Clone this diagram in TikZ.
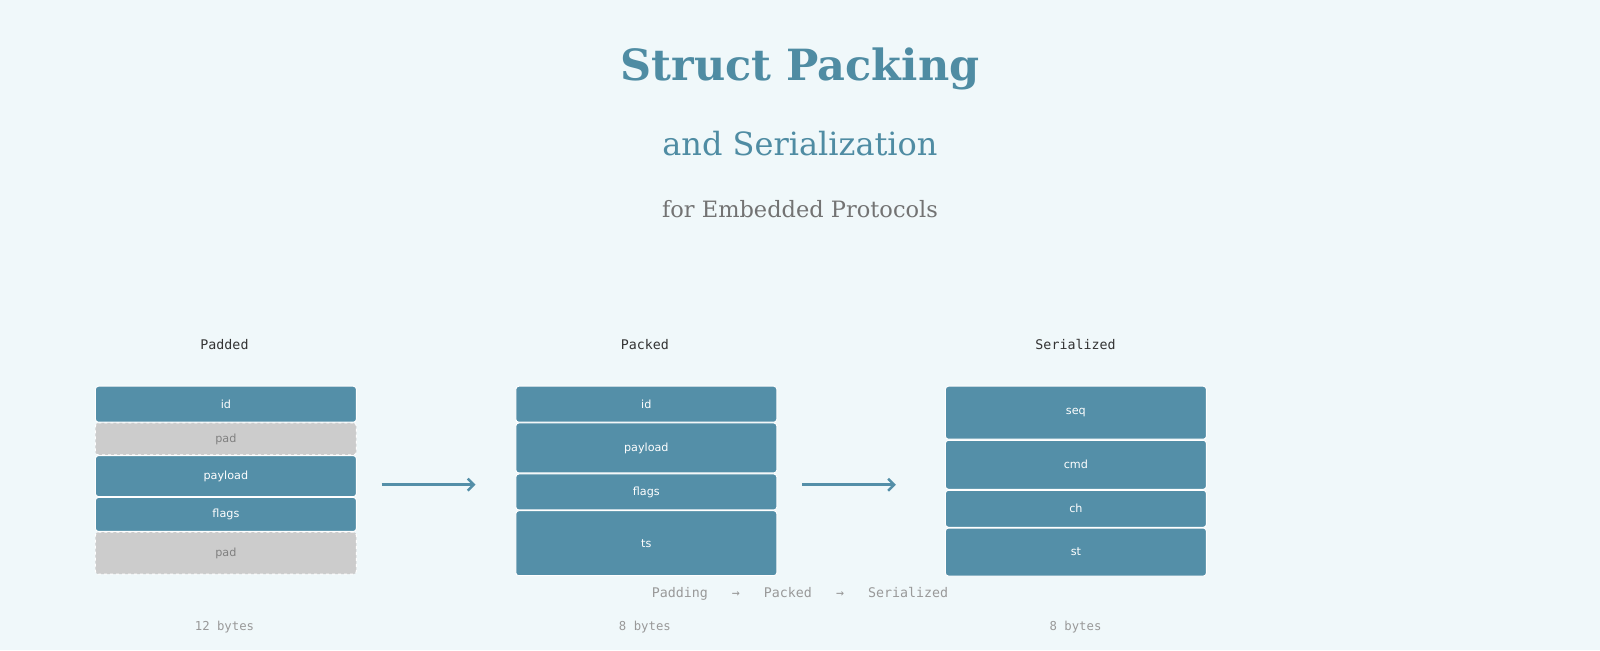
\documentclass[tikz,border=0pt]{standalone}
\usepackage{fontspec}
\setmainfont{DejaVu Serif}
\setsansfont{DejaVu Sans}
\setmonofont{DejaVu Sans Mono}
\usetikzlibrary{arrows.meta}
\definecolor{bg}{HTML}{F0F8FA}
\definecolor{fld}{HTML}{548FA8}
\definecolor{ttl}{HTML}{4F8CA3}
\definecolor{padc}{HTML}{CCCCCC}
\begin{document}
\begin{tikzpicture}[x=1.0204pt,y=-1.0204pt,
  fieldbox/.style={draw=white,line width=1pt,fill=fld,rounded corners=3pt,anchor=north west,minimum width=261pt,inner sep=0pt,text=white,font=\sffamily\fontsize{11.2}{13}\selectfont},
  padbox/.style={fieldbox,fill=padc,dashed,text=gray},
  hdr/.style={font=\ttfamily\fontsize{13.3}{15}\selectfont,text=black!80},
  foot/.style={font=\ttfamily\fontsize{12.3}{14}\selectfont,text=black!40},
  arr/.style={draw=fld,line width=2.5pt,-{Straight Barb[length=6pt,width=12pt]}}]
\fill[bg] (0,0) rectangle (1568,637);
\node[font=\bfseries\fontsize{43}{50}\selectfont,text=ttl] (t1) at (784,68) {Struct Packing};
\node[font=\fontsize{32}{38}\selectfont,text=ttl] (t2) at (784,141) {and Serialization};
\node[font=\fontsize{22.5}{26}\selectfont,text=black!55] (t3) at (784,205) {for Embedded Protocols};

\node[hdr] (h1) at (220,338) {Padded};
\node[hdr] (h2) at (632,338) {Packed};
\node[hdr] (h3) at (1054,338) {Serialized};

% left
\node[fieldbox,minimum height=36pt] (a1) at (93,378) {id};
\node[padbox,minimum height=32pt] (a2) at (93,414) {pad};
\node[fieldbox,minimum height=41pt] (a3) at (93,446) {payload};
\node[fieldbox,minimum height=34pt] (a4) at (93,487) {flags};
\node[padbox,minimum height=42pt] (a5) at (93,521) {pad};
% middle
\node[fieldbox,minimum height=36pt] (b1) at (505,378) {id};
\node[fieldbox,minimum height=50pt] (b2) at (505,414) {payload};
\node[fieldbox,minimum height=36pt] (b3) at (505,464) {flags};
\node[fieldbox,minimum height=65pt] (b4) at (505,500) {ts};
% right
\node[fieldbox,minimum height=53pt] (c1) at (926,378) {seq};
\node[fieldbox,minimum height=49pt] (c2) at (926,431) {cmd};
\node[fieldbox,minimum height=37pt] (c3) at (926,480) {ch};
\node[fieldbox,minimum height=48pt] (c4) at (926,517) {st};

\coordinate (p1) at (374,475); \coordinate (p2) at (466,475);
\coordinate (q1) at (786,475); \coordinate (q2) at (878,475);
\draw[arr] (p1) -- (p2);
\draw[arr] (q1) -- (q2);

\node[foot,font=\ttfamily\fontsize{13.3}{15}\selectfont] (leg) at (784,582) {Padding\ \ \ →\ \ \ Packed\ \ \ →\ \ \ Serialized};
\node[foot] (f1) at (220,615) {12 bytes};
\node[foot] (f2) at (632,615) {8 bytes};
\node[foot] (f3) at (1054,615) {8 bytes};
\pgfresetboundingbox
\useasboundingbox (0,0) rectangle (1568,637);
\end{tikzpicture}
\end{document}
